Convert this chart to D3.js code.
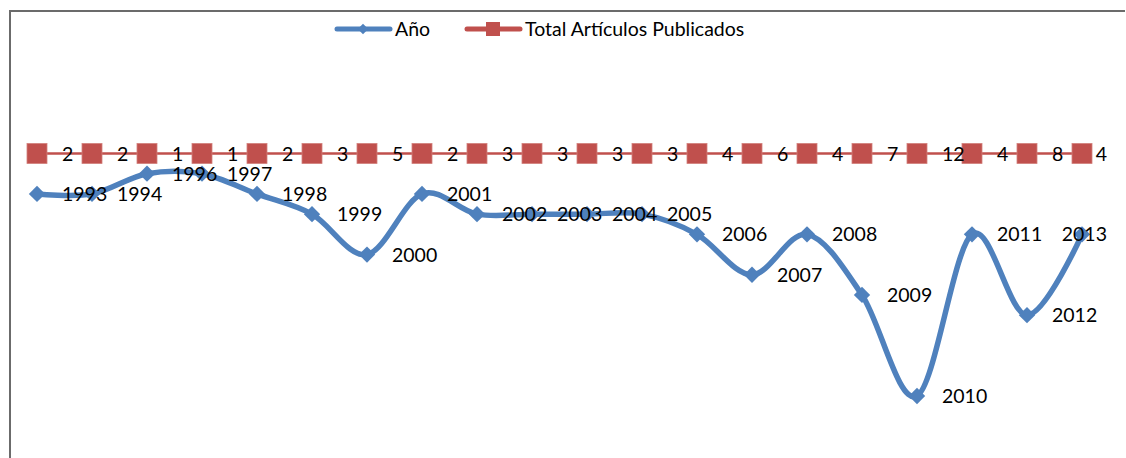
<!DOCTYPE html>
<html>
<head>
<meta charset="utf-8">
<script src="https://cdn.jsdelivr.net/npm/d3@7"></script>
<style>
  body { margin: 0; background: #fff; }
  svg text { font-family: Lato, "Open Sans", sans-serif; fill: #000; }
</style>
</head>
<body>
<svg width="1126" height="458"></svg>
<script>
// years are used as labels of the blue series, counts as its values
const years = ["1993","1994","1996","1997","1998","1999","2000","2001","2002","2003",
               "2004","2005","2006","2007","2008","2009","2010","2011","2012","2013"];
const articles = [2,2,1,1,2,3,5,2,3,3,3,3,4,6,4,7,12,4,8,4];
const totalLine = [0,0,0,0,0,0,0,0,0,0,0,0,0,0,0,0,0,0,0,0];

const blue = '#4F81BD', red = '#C0504D';
const svg = d3.select('svg');
const labelRight = 1107; // labels are pushed back inside the plot area

// chart frame (top and left edges visible)
svg.append('path')
  .attr('d', 'M10,458 V11 H1125')
  .attr('fill', 'none')
  .attr('stroke', '#6b6b6b')
  .attr('stroke-width', 2);

const x = d3.scalePoint().domain(years).range([37, 1082]);
const y = d3.scaleLinear().domain([0, 12]).range([153.5, 396]);

const diamond = d3.symbol().type(d3.symbolDiamond2).size(170);

// red series: constant line with square markers
svg.append('path')
  .datum(totalLine)
  .attr('fill', 'none')
  .attr('stroke', red)
  .attr('stroke-width', 2.5)
  .attr('d', d3.line().x((d, i) => x(years[i])).y(d => y(d)));

svg.selectAll('rect.sq')
  .data(totalLine)
  .enter()
  .append('rect')
  .attr('class', 'sq')
  .attr('x', (d, i) => x(years[i]) - 10)
  .attr('y', d => y(d) - 10)
  .attr('width', 20)
  .attr('height', 20)
  .attr('fill', red)
  .attr('stroke', '#d27f7c')
  .attr('stroke-width', 0.8);

// blue series: smoothed line with diamonds
svg.append('path')
  .datum(articles)
  .attr('fill', 'none')
  .attr('stroke', blue)
  .attr('stroke-width', 5.5)
  .attr('stroke-linejoin', 'round')
  .attr('d', d3.line()
    .x((d, i) => x(years[i]))
    .y(d => y(d))
    .curve(d3.curveCardinal.tension(0)));

svg.selectAll('path.dm')
  .data(articles)
  .enter()
  .append('path')
  .attr('class', 'dm')
  .attr('transform', (d, i) => `translate(${x(years[i])},${y(d)})`)
  .attr('d', diamond)
  .attr('fill', blue);

function fitRight(sel) {
  sel.each(function() {
    const w = this.getComputedTextLength();
    const x0 = +this.getAttribute('x');
    if (x0 + w > labelRight) this.setAttribute('x', labelRight - w);
  });
}

// labels: counts on the red series, years on the blue one
svg.selectAll('text.cnt')
  .data(articles)
  .enter()
  .append('text')
  .attr('class', 'cnt')
  .attr('x', (d, i) => x(years[i]) + 25)
  .attr('y', (d, i) => y(totalLine[i]))
  .attr('dy', '0.36em')
  .style('font-size', '19.5px')
  .text(d => d)
  .call(fitRight);

svg.selectAll('text.yr')
  .data(articles)
  .enter()
  .append('text')
  .attr('class', 'yr')
  .attr('x', (d, i) => x(years[i]) + 25)
  .attr('y', d => y(d))
  .attr('dy', '0.36em')
  .style('font-size', '19.5px')
  .text((d, i) => years[i])
  .call(fitRight);

// legend
const legend = svg.append('g');
legend.append('line')
  .attr('x1', 337).attr('x2', 390).attr('y1', 29).attr('y2', 29)
  .attr('stroke', blue).attr('stroke-width', 5).attr('stroke-linecap', 'round');
legend.append('path')
  .attr('transform', 'translate(363,29)')
  .attr('d', d3.symbol().type(d3.symbolDiamond2).size(70))
  .attr('fill', blue);
legend.append('text')
  .attr('x', 395).attr('y', 29).attr('dy', '0.36em')
  .style('font-size', '19.5px')
  .text('Año');

legend.append('line')
  .attr('x1', 467).attr('x2', 520).attr('y1', 29).attr('y2', 29)
  .attr('stroke', red).attr('stroke-width', 5).attr('stroke-linecap', 'round');
legend.append('rect')
  .attr('x', 486).attr('y', 22).attr('width', 14).attr('height', 14)
  .attr('fill', red);
legend.append('text')
  .attr('x', 525).attr('y', 29).attr('dy', '0.36em')
  .style('font-size', '19.5px')
  .text('Total Artículos Publicados');
</script>
</body>
</html>
